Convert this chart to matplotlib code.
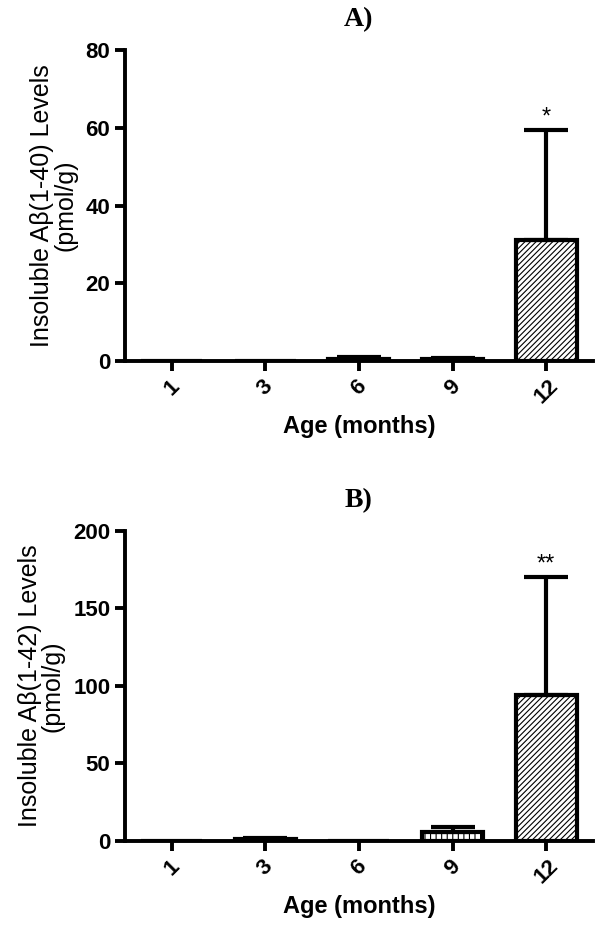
import numpy as np
import matplotlib.pyplot as plt

plt.rcParams['font.family'] = ['Liberation Sans', 'DejaVu Sans']
plt.rcParams['hatch.linewidth'] = 0.8

ages = ['1', '3', '6', '9', '12']

# panel A: insoluble Abeta(1-40)
a40_mean = [0.0, 0.0, 0.6, 0.4, 31.0]
a40_err = [0.0, 0.0, 0.5, 0.5, 28.5]
a40_hatch = ['', '', '', '', '//////']
a40_sig = ['', '', '', '', '*']

# panel B: insoluble Abeta(1-42)
a42_mean = [0.0, 1.0, 0.0, 5.8, 94.0]
a42_err = [0.0, 0.6, 0.0, 3.4, 76.0]
a42_hatch = ['', '', '', '|||', '//////']
a42_sig = ['', '', '', '', '**']

fig = plt.figure(figsize=(6.06, 9.39), dpi=100)


def panel(rect, means, errs, hatches, sigs, ymax, step, ylab, title):
    ax = fig.add_axes(rect)
    x = np.arange(len(ages))
    for i in range(len(ages)):
        ax.bar(x[i], means[i], width=0.65, color='white', edgecolor='black',
               linewidth=3, hatch=hatches[i], zorder=2)
        if errs[i] > 0:
            ax.errorbar(x[i], means[i], yerr=[[0], [errs[i]]], fmt='none',
                        ecolor='black', elinewidth=3, capsize=16,
                        capthick=3, zorder=3)
        if sigs[i]:
            ax.text(x[i], means[i] + errs[i] + ymax * 0.005, sigs[i],
                    ha='center', va='bottom', fontsize=17)
    ax.set_xlim(-0.5, len(ages) - 0.5)
    ax.set_ylim(0, ymax)
    ax.set_yticks(np.arange(0, ymax + 1, step))
    ax.set_xticks(x)
    ax.set_xticklabels(ages, rotation=45, ha='center', va='top')
    for s in ['top', 'right']:
        ax.spines[s].set_visible(False)
    for s in ['left', 'bottom']:
        ax.spines[s].set_linewidth(2.8)
    ax.tick_params(width=2.8, length=7, labelsize=16)
    for lb in ax.get_yticklabels():
        lb.set_fontweight('bold')
    for lb in ax.get_xticklabels():
        lb.set_fontweight('bold')
    ax.set_xlabel('Age (months)', fontsize=17, fontweight='bold', labelpad=5)
    ax.set_ylabel(ylab, fontsize=18, labelpad=6, linespacing=0.95)
    ax.set_title(title, fontsize=20, fontweight='bold',
                 family='Liberation Serif', pad=17)
    return ax


panel([0.206, 0.6155, 0.7725, 0.3313], a40_mean, a40_err, a40_hatch, a40_sig,
      80, 20, 'Insoluble Aβ(1-40) Levels\n(pmol/g)', 'A)')
panel([0.206, 0.1044, 0.7725, 0.3301], a42_mean, a42_err, a42_hatch, a42_sig,
      200, 50, 'Insoluble Aβ(1-42) Levels\n(pmol/g)', 'B)')

fig.savefig('out.png', dpi=100)
